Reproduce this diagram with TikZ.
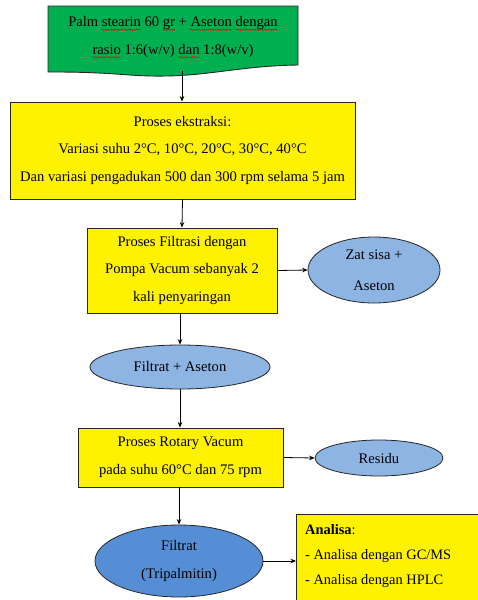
\documentclass[tikz,border=0pt]{standalone}
\usepackage{fontspec}
\setmainfont{Liberation Serif}
\usetikzlibrary{shapes.geometric,arrows.meta,decorations.pathmorphing}
\newcommand\sperr[1]{\setbox0\hbox{#1}\leavevmode\rlap{\tikz[overlay,baseline=0pt]\draw[red,line width=0.5pt,decorate,decoration={snake,amplitude=0.7pt,segment length=2.6pt}] (0pt,-3pt) -- (\the\wd0,-3pt);}\box0\relax}
\definecolor{dgreen}{RGB}{0,176,80}
\definecolor{lblue}{RGB}{141,180,226}
\definecolor{dblue}{RGB}{85,142,213}
\tikzset{
  txt/.style={font=\fontsize{14.6}{27.5}\selectfont, align=center},
  ybox/.style={draw=black!85, line width=0.9pt, fill=yellow, txt, inner sep=0pt},
  lell/.style={ellipse, draw=black!85, line width=0.8pt, fill=lblue, txt, inner sep=0pt},
  dell/.style={ellipse, draw=black!85, line width=0.8pt, fill=dblue, txt, inner sep=0pt},
  arr/.style={-{Stealth[length=5.5pt,width=4.5pt]}, line width=0.8pt}
}
\begin{document}
\begin{tikzpicture}[x=1pt,y=-1pt]
\useasboundingbox (0,0) rectangle (478,600);
\begin{scope}
\clip (0,0) rectangle (478,600);
% start document shape
\draw[fill=dgreen, draw=black!85, line width=0.9pt]
  (48,6) -- (298,6) -- (298,65)
  .. controls (230,66) and (200,80) .. (130,75)
  .. controls (90,72) and (70,72) .. (48,72) -- cycle;
\node[txt] (start) at (173,37) {Palm \sperr{stearin} 60 \sperr{gr} + \sperr{Aseton} \sperr{dengan}\\ \sperr{rasio} 1:6(w/v) \sperr{dan} 1:8(w/v)};
\coordinate (startb) at (182,71);
% boxes
\node[ybox, minimum width=345pt, minimum height=97pt] (ekstr) at (182.5,150.5)
  {Proses ekstraksi:\\ Variasi suhu 2°C, 10°C, 20°C, 30°C, 40°C\\ Dan variasi pengadukan 500 dan 300 rpm selama 5 jam};
\node[ybox, minimum width=190pt, minimum height=85pt] (filt) at (182,270.5)
  {Proses Filtrasi dengan\\ Pompa Vacum sebanyak 2\\ kali penyaringan};
\node[lell, minimum width=132pt, minimum height=66pt, font=\fontsize{14.6}{31}\selectfont] (zat) at (374,270)
  {Zat sisa +\\ Aseton};
\node[lell, minimum width=180pt, minimum height=44pt] (fa) at (180,367)
  {Filtrat + Aseton};
\node[ybox, minimum width=205pt, minimum height=59pt] (rot) at (180.5,457.5)
  {Proses Rotary Vacum\\ pada suhu 60°C dan 75 rpm};
\node[lell, minimum width=128pt, minimum height=36pt] (res) at (379,458)
  {Residu};
\node[dell, minimum width=168pt, minimum height=72pt] (ftp) at (179,561)
  {Filtrat\\ (Tripalmitin)};
\node[ybox, minimum width=190pt, minimum height=95pt, anchor=north west] (ana) at (296,514) {};
\node[anchor=north west, align=left, inner sep=0pt, font=\fontsize{14.4}{25}\selectfont] (anatxt) at (305,524)
  {\textbf{Analisa}:\\ - Analisa dengan GC/MS\\ - Analisa dengan HPLC};
% arrows
\draw[arr] (startb) -- (ekstr.north -| startb);
\draw[arr] (ekstr.south) -- (filt.north);
\draw[arr] (filt.east) -- (zat.west);
\draw[arr] (filt.south -| fa.north) -- (fa.north);
\draw[arr] (fa.south) -- (rot.north -| fa.south);
\draw[arr] (rot.east) -- (res.west);
\draw[arr] (rot.south -| ftp.north) -- (ftp.north);
\draw[arr] (ftp.east) -- (ana.west |- ftp.east);
\end{scope}
\end{tikzpicture}
\end{document}
